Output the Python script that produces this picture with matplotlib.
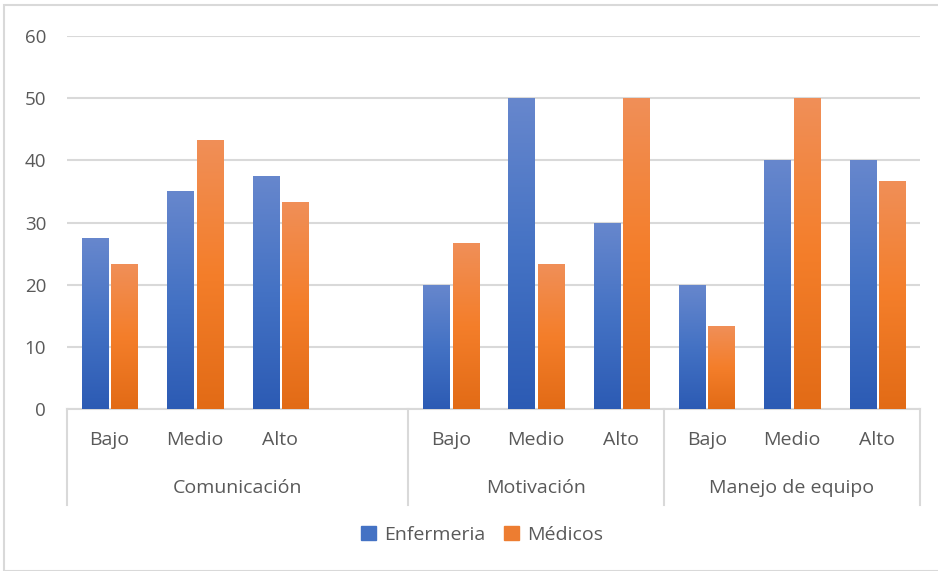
import numpy as np
import matplotlib
matplotlib.use("Agg")
import matplotlib.pyplot as plt
from matplotlib.colors import LinearSegmentedColormap
from matplotlib.patches import Rectangle

plt.rcParams['font.family'] = ['Open Sans', 'DejaVu Sans']

groups = ["Comunicación", "Motivación", "Manejo de equipo"]
group_sizes = [4, 3, 3]   # Comunicación has an empty 4th slot
levels = ["Bajo", "Medio", "Alto", "", "Bajo", "Medio", "Alto", "Bajo", "Medio", "Alto"]
enfermeria = [27.5, 35, 37.5, np.nan, 20, 50, 30, 20, 40, 40]
medicos = [23.3, 43.3, 33.3, np.nan, 26.7, 23.3, 50, 13.3, 50, 36.7]

txt = "#595959"
grid_c = "#D9D9D9"

blue_cm = LinearSegmentedColormap.from_list("b", ["#2C5BB4", "#4472C4", "#6787CD"])
orange_cm = LinearSegmentedColormap.from_list("o", ["#E26B16", "#F47E2A", "#F08F58"])

fig = plt.figure(figsize=(9.38, 5.71), dpi=100)
ax = fig.add_axes([67/938, 1-409/571, (920-67)/938, (409-36)/571])

x = np.arange(len(levels))
w = 0.305
gap = 0.04
grad = np.linspace(0, 1, 256).reshape(-1, 1)

for vals, off, cm in [(enfermeria, -(w+gap)/2, blue_cm), (medicos, (w+gap)/2, orange_cm)]:
    bars = ax.bar(x + off, vals, width=w, color="none", edgecolor="none", zorder=3)
    for b in bars:
        h = b.get_height()
        if not np.isfinite(h) or h == 0:
            continue
        x0 = b.get_x()
        im = ax.imshow(grad, extent=[x0, x0 + w, 0, h], origin="lower", aspect="auto",
                       cmap=cm, zorder=3, interpolation="bilinear")
        im.set_clip_path(b)

ax.set_xlim(-0.5, len(levels) - 0.5)
ax.set_ylim(0, 60)
ax.set_yticks(range(0, 61, 10))
ax.yaxis.grid(True, color=grid_c, linewidth=1.5)
ax.set_axisbelow(True)
for s in ["top", "right", "left"]:
    ax.spines[s].set_visible(False)
ax.spines["bottom"].set_color(grid_c)
ax.spines["bottom"].set_linewidth(1.5)
ax.tick_params(axis="y", length=0, pad=15, labelcolor=txt, labelsize=13.5)
ax.tick_params(axis="x", length=0, labelbottom=False)

# multi-level category axis
trans = ax.get_xaxis_transform()
sep_bottom = -(505-409)/(409-36)
for i, lab in enumerate(levels):
    ax.text(i, -(440-409)/(409-36), lab, transform=trans, ha="center", va="center",
            color=txt, fontsize=14)
start = 0
edges = [-0.5]
for g, n in zip(groups, group_sizes):
    mid = start + (n - 1) / 2
    if n == 4:
        mid = start + 1.5
    ax.text(mid, -(488-409)/(409-36), g, transform=trans, ha="center", va="center",
            color=txt, fontsize=14)
    start += n
    edges.append(start - 0.5)
for e in edges:
    ax.plot([e, e], [0, sep_bottom], transform=trans, color=grid_c, lw=1.5, clip_on=False)

# legend
h1 = Rectangle((0, 0), 1, 1, color="#4472C4")
h2 = Rectangle((0, 0), 1, 1, color="#ED7D31")
fig.legend([h1, h2], ["Enfermeria", "Médicos"], loc="center", ncol=2,
           bbox_to_anchor=(482/938, 1-535/571), frameon=False, fontsize=14,
           labelcolor=txt, handlelength=0.75, handleheight=0.75, handletextpad=0.4,
           columnspacing=1.0)

# chart frame
fig.patches.append(Rectangle((4/938, 0), 1, 1-5/571, transform=fig.transFigure,
                             fill=False, edgecolor=grid_c, lw=1.5))

fig.savefig("out.png", dpi=100)
